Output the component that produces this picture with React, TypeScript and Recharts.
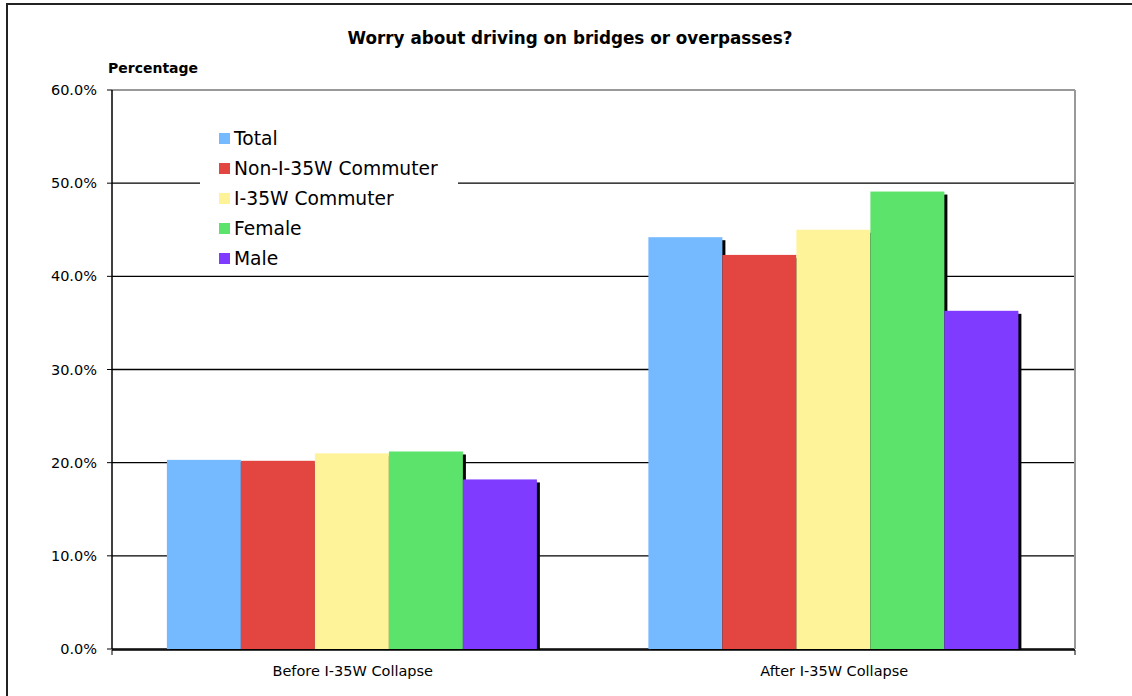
import React from "react";
import {
    BarChart,
    Bar,
    XAxis,
    YAxis,
    CartesianGrid,
    Legend,
    ReferenceLine,
} from "recharts";

const categories = ["Before I-35W Collapse", "After I-35W Collapse"];
const total = [20.3, 44.2];
const nonCommuter = [20.2, 42.3];
const commuter = [21.0, 45.0];
const female = [21.2, 49.1];
const male = [18.2, 36.3];
const yTicks = [0, 10, 20, 30, 40, 50, 60];

const series = [
    { key: "total", name: "Total", color: "#75B9FF" },
    { key: "nonCommuter", name: "Non-I-35W Commuter", color: "#E34541" },
    { key: "commuter", name: "I-35W Commuter", color: "#FFF39A" },
    { key: "female", name: "Female", color: "#5CE36B" },
    { key: "male", name: "Male", color: "#7F3BFF" },
];

const data = categories.map((name, i) => ({
    name,
    total: total[i],
    nonCommuter: nonCommuter[i],
    commuter: commuter[i],
    female: female[i],
    male: male[i],
}));

const font = "'DejaVu Sans', Verdana, sans-serif";

// bar with a small black drop shadow on the right
const ShadowBar = (props: any) => {
    const { x, y, width, height, fill } = props;
    if (!height || height <= 0) return null;
    return (
        <g>
            <rect x={x + 3} y={y + 3} width={width} height={height - 2} fill="#000" />
            <rect x={x} y={y} width={width} height={height} fill={fill} />
        </g>
    );
};

const LegendBox = () => (
    <div
        style={{
            background: "#fff",
            padding: "1px 0 0 19px",
            fontFamily: font,
            fontSize: 18.7,
            color: "#000",
        }}
    >
        {series.map((s) => (
            <div
                key={s.key}
                style={{ display: "flex", alignItems: "center", height: 30 }}
            >
                <span
                    style={{
                        width: 11,
                        height: 11,
                        background: s.color,
                        marginRight: 4,
                        display: "inline-block",
                    }}
                />
                <span>{s.name}</span>
            </div>
        ))}
    </div>
);

export default function App() {
    return (
        <div
            style={{
                position: "absolute",
                left: 0,
                top: 0,
                width: 1132,
                height: 696,
                overflow: "hidden",
                background: "#fff",
            }}
        >
            <div
                style={{
                    position: "absolute",
                    left: 6,
                    top: 3,
                    width: 1200,
                    height: 800,
                    border: "2px solid #222",
                }}
            />
            <div
                style={{
                    position: "absolute",
                    left: 0,
                    width: 1140,
                    top: 28,
                    textAlign: "center",
                    fontFamily: font,
                    fontWeight: "bold",
                    fontSize: 16.8,
                }}
            >
                Worry about driving on bridges or overpasses?
            </div>
            <div
                style={{
                    position: "absolute",
                    left: 108,
                    top: 60,
                    fontFamily: font,
                    fontWeight: "bold",
                    fontSize: 14,
                }}
            >
                Percentage
            </div>
            <div style={{ position: "absolute", left: 0, top: 0 }}>
                <BarChart
                    width={1132}
                    height={696}
                    data={data}
                    margin={{ top: 90, right: 56, bottom: 16, left: 32 }}
                    barCategoryGap="11.4%"
                    barGap={0}
                >
                    <CartesianGrid
                        vertical={false}
                        stroke="#000"
                        strokeWidth={1.3}
                    />
                    {/* category labels, sits right on the plot edge */}
                    <XAxis
                        dataKey="name"
                        height={1}
                        axisLine={false}
                        tickLine={false}
                        tickSize={5}
                        tickMargin={12}
                        tick={{ fill: "#000", fontSize: 14.5, fontFamily: font }}
                    />
                    {/* axis line with tick marks at the category boundaries */}
                    <XAxis
                        xAxisId="edges"
                        type="number"
                        domain={[0, 2]}
                        ticks={[0, 1, 2]}
                        allowDataOverflow
                        height={30}
                        tick={() => <g />}
                        tickSize={5}
                        axisLine={{ stroke: "#000", strokeWidth: 1.5 }}
                        tickLine={{ stroke: "#000" }}
                    />
                    <YAxis
                        domain={[0, 60]}
                        ticks={yTicks}
                        width={80}
                        tickSize={5}
                        tickMargin={10}
                        tickFormatter={(v: number) => `${v.toFixed(1)}%`}
                        axisLine={{ stroke: "#000", strokeWidth: 1.5 }}
                        tickLine={{ stroke: "#000" }}
                        tick={{ fill: "#000", fontSize: 14.5, fontFamily: font }}
                    />
                    <YAxis
                        yAxisId="right"
                        orientation="right"
                        domain={[0, 60]}
                        width={1}
                        tick={false}
                        tickLine={false}
                        axisLine={{ stroke: "#999", strokeWidth: 2 }}
                    />
                    <ReferenceLine y={60} stroke="#999" strokeWidth={2} />
                    {series.map((s) => (
                        <Bar
                            key={s.key}
                            dataKey={s.key}
                            name={s.name}
                            fill={s.color}
                            shape={ShadowBar}
                            isAnimationActive={false}
                        />
                    ))}
                    <Legend
                        layout="horizontal"
                        verticalAlign="middle"
                        align="center"
                        wrapperStyle={{ left: 200, top: 122, width: 258 }}
                        content={() => <LegendBox />}
                    />
                </BarChart>
            </div>
        </div>
    );
}
